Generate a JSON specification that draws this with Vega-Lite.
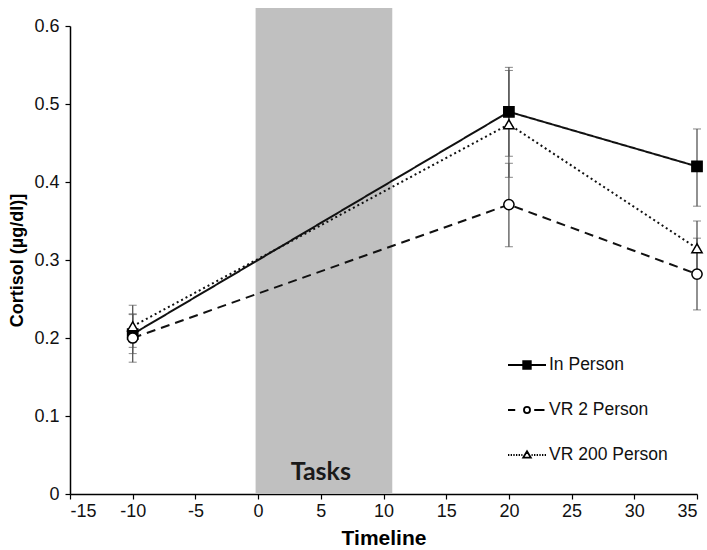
{
  "$schema": "https://vega.github.io/schema/vega-lite/v6.json",
  "width": 627,
  "height": 468,
  "autosize": "none",
  "padding": {"left": 70, "top": 26, "right": 10, "bottom": 56},
  "background": "white",
  "config": {
    "view": {"stroke": null},
    "font": "Liberation Sans",
    "axis": {
      "grid": false,
      "domainColor": "#000",
      "domainWidth": 1.5,
      "tickColor": "#000",
      "tickWidth": 1.2,
      "tickSize": 5,
      "labelFont": "Liberation Sans",
      "labelFontSize": 18,
      "labelColor": "#111",
      "titleFont": "Liberation Sans",
      "titleFontWeight": "bold",
      "titleColor": "#000"
    },
    "legend": {
      "orient": "none",
      "legendX": 437,
      "legendY": 319,
      "labelFont": "Liberation Sans",
      "labelFontSize": 17.5,
      "labelColor": "#111",
      "labelOffset": 2,
      "symbolSize": 1444,
      "symbolStrokeWidth": 1.8,
      "symbolStrokeColor": "#000",
      "rowPadding": 16
    }
  },
  "datasets": {
    "series": [
      {"group": "In Person", "t": -10, "y": 0.205, "lo": 0.18, "hi": 0.23},
      {"group": "In Person", "t": 20, "y": 0.49, "lo": 0.433, "hi": 0.547},
      {"group": "In Person", "t": 35, "y": 0.42, "lo": 0.369, "hi": 0.468},
      {"group": "VR 2 Person", "t": -10, "y": 0.2, "lo": 0.169, "hi": 0.231},
      {"group": "VR 2 Person", "t": 20, "y": 0.371, "lo": 0.317, "hi": 0.424},
      {"group": "VR 2 Person", "t": 35, "y": 0.282, "lo": 0.236, "hi": 0.328},
      {"group": "VR 200 Person", "t": -10, "y": 0.215, "lo": 0.188, "hi": 0.242},
      {"group": "VR 200 Person", "t": 20, "y": 0.474, "lo": 0.406, "hi": 0.543},
      {"group": "VR 200 Person", "t": 35, "y": 0.315, "lo": 0.28, "hi": 0.35}
    ],
    "tasks": [
      {"start": -0.2, "end": 10.7, "bottom": 0, "top": 0.623, "label": "Tasks", "mid": 5, "ly": 0.018}
    ]
  },
  "layer": [
    {
      "data": {"name": "tasks"},
      "mark": {"type": "rect", "color": "#c0c0c0"},
      "encoding": {
        "x": {"field": "start", "type": "quantitative", "scale": {"domain": [-15, 35], "nice": false, "zero": false},
              "axis": {"values": [-15, -10, -5, 0, 5, 10, 15, 20, 25, 30, 35],
                       "labelExpr": "datum.value < 0 ? '-' + abs(datum.value) : '' + datum.value",
                       "title": "Timeline", "titleFontSize": 21, "labelPadding": 3, "titlePadding": 7}},
        "x2": {"field": "end"},
        "y": {"field": "bottom", "type": "quantitative", "scale": {"domain": [0, 0.6], "nice": false},
              "axis": {"values": [0, 0.1, 0.2, 0.3, 0.4, 0.5, 0.6], "format": "~g", "title": "Cortisol (µg/dl)]", "titleFontSize": 18, "labelPadding": 6, "titlePadding": 7}},
        "y2": {"field": "top"}
      }
    },
    {
      "data": {"name": "tasks"},
      "mark": {"type": "text", "font": "Lato", "fontSize": 25, "fontWeight": "bold", "color": "#1a1a1a", "baseline": "alphabetic", "align": "center"},
      "encoding": {
        "x": {"field": "mid", "type": "quantitative", "title": "Timeline"},
        "y": {"field": "ly", "type": "quantitative", "title": "Cortisol (µg/dl)]"},
        "text": {"field": "label"}
      }
    },
    {
      "data": {"name": "series"},
      "mark": {"type": "errorbar", "ticks": {"size": 8, "color": "#555", "strokeWidth": 1.3}, "rule": {"color": "#555", "strokeWidth": 1.3}},
      "encoding": {
        "x": {"field": "t", "type": "quantitative", "title": "Timeline"},
        "y": {"field": "lo", "type": "quantitative", "title": "Cortisol (µg/dl)]"},
        "y2": {"field": "hi"},
        "detail": {"field": "group"}
      }
    },
    {
      "data": {"name": "series"},
      "mark": {"type": "line", "color": "#111", "strokeWidth": 2},
      "encoding": {
        "x": {"field": "t", "type": "quantitative", "title": "Timeline"},
        "y": {"field": "y", "type": "quantitative", "title": "Cortisol (µg/dl)]"},
        "detail": {"field": "group"},
        "strokeDash": {"condition": [{"test": "datum.group == 'VR 2 Person'", "value": [9, 6]}, {"test": "datum.group == 'VR 200 Person'", "value": [2, 3]}], "value": [1, 0]}
      }
    },
    {
      "data": {"name": "series"},
      "mark": {"type": "point", "filled": false, "stroke": "#000", "strokeWidth": 1.5, "opacity": 1, "size": 105},
      "encoding": {
        "x": {"field": "t", "type": "quantitative", "title": "Timeline"},
        "y": {"field": "y", "type": "quantitative", "title": "Cortisol (µg/dl)]"},
        "fill": {"condition": {"test": "datum.group == 'In Person'", "value": "#000"}, "value": "#fff"},
        "shape": {"condition": [{"test": "datum.group == 'In Person'", "value": "square"}, {"test": "datum.group == 'VR 2 Person'", "value": "circle"}], "value": "triangle-up"}
      }
    },
    {
      "data": {"name": "series"},
      "transform": [{"filter": "false"}],
      "mark": {"type": "point", "filled": false, "strokeWidth": 1.8, "opacity": 1},
      "encoding": {
        "x": {"field": "t", "type": "quantitative", "title": "Timeline"},
        "y": {"field": "y", "type": "quantitative", "title": "Cortisol (µg/dl)]"},
        "fill": {"field": "group", "type": "nominal",
          "scale": {"domain": ["In Person", "VR 2 Person", "VR 200 Person"], "range": ["#000", "#fff", "#fff"]},
          "legend": {"title": null}},
        "stroke": {"field": "group", "type": "nominal",
          "scale": {"domain": ["In Person", "VR 2 Person", "VR 200 Person"], "range": ["#000", "#000", "#000"]},
          "legend": {"title": null}},
        "shape": {"field": "group", "type": "nominal",
          "scale": {"domain": ["In Person", "VR 2 Person", "VR 200 Person"],
                    "range": ["M-1,0H-0.21M0.21,0H1M-0.2,-0.2H0.2V0.2H-0.2Z",
                              "M-1,0H-0.62M0.38,0H0.92M0.16,0A0.16,0.16 0 1,1 -0.16,0A0.16,0.16 0 1,1 0.16,0Z",
                              "M-1,0H-0.93M-0.86,0H-0.79M-0.72,0H-0.65M-0.58,0H-0.51M-0.44,0H-0.37M-0.3,0H-0.24M0.24,0H0.3M0.37,0H0.44M0.51,0H0.58M0.65,0H0.72M0.79,0H0.86M0.93,0H1M0,-0.2L0.2,0.14H-0.2Z"]},
          "legend": {"title": null}
        }
      }
    }
  ]
}
